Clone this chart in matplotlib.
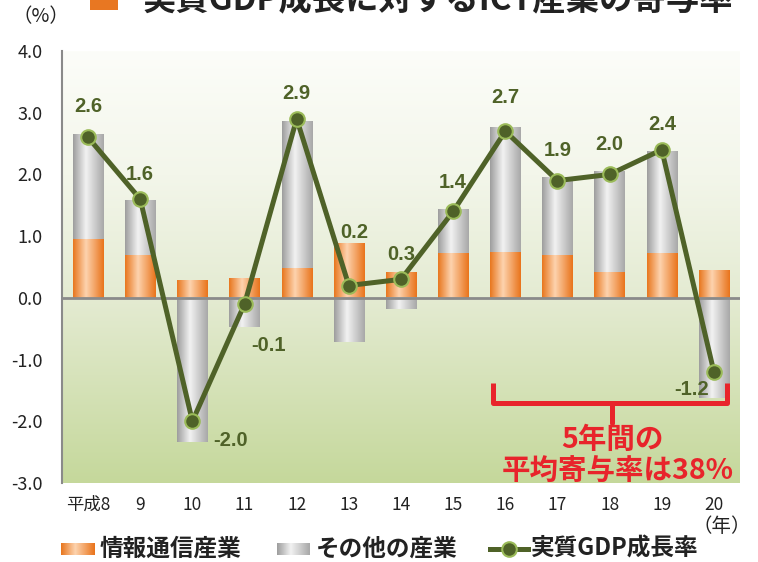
import numpy as np
import matplotlib
matplotlib.use('Agg')
import matplotlib.pyplot as plt
from matplotlib.colors import LinearSegmentedColormap

plt.rcParams['font.family'] = ['Noto Sans CJK JP', 'DejaVu Sans']

# 年度ラベル
years = ['平成8', '9', '10', '11', '12', '13', '14', '15', '16', '17', '18', '19', '20']
# 情報通信産業の寄与度 (%)
ict = [0.95, 0.69, 0.29, 0.31, 0.49, 0.89, 0.42, 0.73, 0.75, 0.70, 0.42, 0.73, 0.45]
# その他の産業の寄与度 (%)
other = [1.70, 0.88, -2.34, -0.47, 2.38, -0.71, -0.18, 0.70, 2.01, 1.25, 1.63, 1.64, -1.62]
# 実質GDP成長率 (%)
gdp = [2.6, 1.6, -2.0, -0.1, 2.9, 0.2, 0.3, 1.4, 2.7, 1.9, 2.0, 2.4, -1.2]
# ラベル位置のずらし (px)
label_off = [(0, 31), (0, 25), (38, -19), (24, -41), (0, 25), (5, 53), (0, 25),
             (0, 29), (0, 34), (0, 30), (0, 30), (0, 25), (-22, -18)]

OLIVE = '#4f6228'
RED = '#e8242b'

fig = plt.figure(figsize=(7.58, 5.62), dpi=100)
ax = fig.add_axes([62 / 758, 1 - 483 / 562, (740 - 62) / 758, (483 - 51) / 562])

x = np.arange(len(years))
w = 0.58
xlim = (-0.5, len(years) - 0.5)
ylim = (-3.0, 4.0)


def cylinder(c_edge, c_mid, c_edge2, n=64):
    cmap = LinearSegmentedColormap.from_list('cyl', [(0, c_edge), (0.42, c_mid), (1, c_edge2)])
    return cmap(np.linspace(0, 1, n))[None, :, :]


orange_img = cylinder('#e8771f', '#fdd3ae', '#e9741c')
gray_img = cylinder('#9e9e9e', '#f2f2f2', '#a8a8a8')

# 背景グラデーション
bg_cmap = LinearSegmentedColormap.from_list(
    'bg', [(0, '#c5d89b'), (3 / 7, '#e4ebd2'), (5 / 7, '#f3f6ea'), (1, '#fcfdf9')])
bg = bg_cmap(np.linspace(0, 1, 256))[:, None, :]
ax.imshow(bg, extent=(xlim[0], xlim[1], ylim[0], ylim[1]), origin='lower',
          aspect='auto', zorder=0)

# 積み上げ棒 (円柱風グラデーション)
for xi, a, b in zip(x, ict, other):
    ax.imshow(orange_img, extent=(xi - w / 2, xi + w / 2, 0, a), aspect='auto', zorder=2)
    if b >= 0:
        ax.imshow(gray_img, extent=(xi - w / 2, xi + w / 2, a, a + b), aspect='auto', zorder=2)
    else:
        ax.imshow(gray_img, extent=(xi - w / 2, xi + w / 2, b, 0), aspect='auto', zorder=2)

ax.axhline(0, color='#8a8a8a', lw=2, zorder=3)

# 実質GDP成長率の折れ線
ax.plot(x, gdp, color=OLIVE, lw=3.6, marker='o', ms=10.5, mfc=OLIVE,
        mec='#9bbb59', mew=1.5, zorder=5)
for xi, v, (dx, dy) in zip(x, gdp, label_off):
    ax.annotate(f'{v:.1f}', (xi, v), xytext=(dx, dy), textcoords='offset pixels',
                ha='center', va='center', fontsize=14.5, fontweight='bold',
                color=OLIVE, family=['Liberation Sans', 'DejaVu Sans'], zorder=6)

# 5年間のかっこ
bx0, bx1, bxc = 7.76, 12.25, 10.05
ax.plot([bx0, bx0, bx1, bx1], [-1.38, -1.70, -1.70, -1.38], color=RED, lw=3.6,
        solid_joinstyle='round', solid_capstyle='butt', zorder=7)
ax.plot([bxc, bxc], [-1.70, -2.03], color=RED, lw=3.6, solid_capstyle='round', zorder=7)
ax.text(bxc, -2.31, '5年間の', ha='center', va='center', fontsize=20.5,
        fontweight='bold', color=RED, zorder=7)
ax.text(bxc + 0.1, -2.82, '平均寄与率は38%', ha='center', va='center', fontsize=20.5,
        fontweight='bold', color=RED, zorder=7)

ax.set_xlim(*xlim)
ax.set_ylim(*ylim)
ax.set_xticks(x, years)
ax.set_yticks(np.arange(-3, 5), [f'{v:.1f}' for v in np.arange(-3, 5)])
ax.tick_params(axis='x', length=0, pad=9, labelsize=12.5, colors='#222222')
ax.tick_params(axis='y', length=0, pad=14, labelsize=13, colors='#222222')
for s in ['top', 'right', 'bottom']:
    ax.spines[s].set_visible(False)
ax.spines['left'].set_color('#8a8a8a')
ax.spines['left'].set_linewidth(1.5)

# 図全体の注記・凡例 (ピクセル座標)
ov = fig.add_axes([0, 0, 1, 1], zorder=10)
ov.set_xlim(0, 758)
ov.set_ylim(562, 0)
ov.set_axis_off()

ov.add_patch(plt.Rectangle((90, -18), 28, 28, color='#e87722', lw=0))
ov.text(143, 10, '実質GDP成長に対するICT産業の寄与率', ha='left', va='baseline',
        fontsize=24, fontweight='bold', color='#222222')
ov.text(41, 17, '（%）', ha='center', va='center', fontsize=14, color='#222222')
ov.text(722, 527, '（年）', ha='center', va='center', fontsize=14, color='#222222')

# 凡例
ov.imshow(orange_img, extent=(61, 95, 555, 543), aspect='auto')
ov.text(100, 549, '情報通信産業', ha='left', va='center', fontsize=17,
        fontweight='bold', color='#222222')
ov.imshow(gray_img, extent=(277, 310, 555, 543), aspect='auto')
ov.text(316, 549, 'その他の産業', ha='left', va='center', fontsize=17,
        fontweight='bold', color='#222222')
ov.plot([490, 528], [549, 549], color=OLIVE, lw=3.6)
ov.plot([509], [549], marker='o', ms=10.5, mfc=OLIVE, mec='#9bbb59', mew=1.5)
ov.text(531, 549, '実質GDP成長率', ha='left', va='center', fontsize=17,
        fontweight='bold', color='#222222')
ov.set_xlim(0, 758)
ov.set_ylim(562, 0)

fig.savefig('out.png', dpi=100)
